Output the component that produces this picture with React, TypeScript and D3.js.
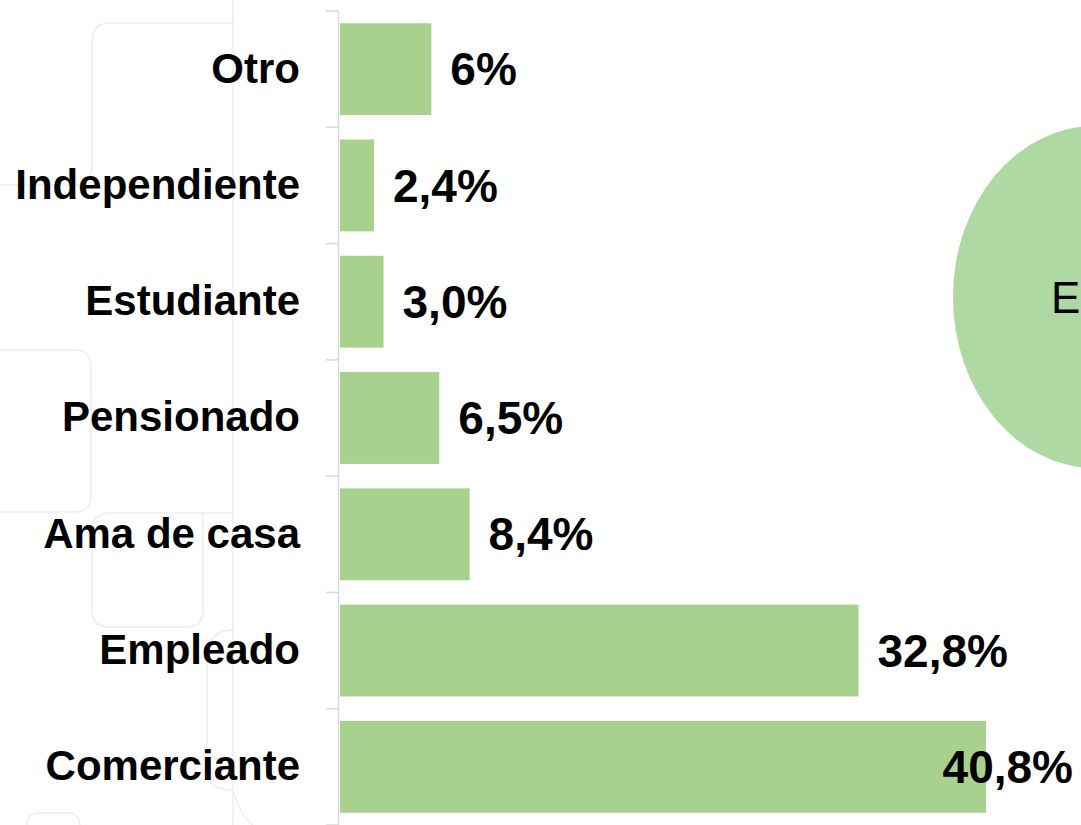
import React, { useEffect, useRef } from "react";
import * as d3 from "d3";

const categories = ["Otro", "Independiente", "Estudiante", "Pensionado", "Ama de casa", "Empleado", "Comerciante"];
const values = [6, 2.4, 3.0, 6.5, 8.4, 32.8, 40.8];
const valueLabels = ["6%", "2,4%", "3,0%", "6,5%", "8,4%", "32,8%", "40,8%"];
const ellipseText = "E";

const W = 1081;
const H = 825;
const BAR = "#a9d18e";
const FONT = "'Liberation Sans', Arial, Helvetica, sans-serif";

export default function App() {
  const ref = useRef<SVGSVGElement | null>(null);

  useEffect(() => {
    const svg = d3.select(ref.current);
    svg.selectAll("*").remove();

    // faint background decorations
    const deco = svg.append("g").attr("fill", "none").attr("stroke", "#eeeeee").attr("stroke-width", 1.5);
    deco.append("line").attr("x1", 233).attr("y1", 0).attr("x2", 233).attr("y2", H);
    deco.append("path").attr("d", "M233,23 H110 Q92,23 92,41 V165 Q92,185 72,185 H0");
    deco.append("path").attr("d", "M0,350 H74 Q91,350 91,367 V495 Q91,512 74,512 H0");
    deco.append("path").attr("d", "M233,513 H110 Q92,513 92,531 V610 Q92,627 110,627 H186 Q203,627 203,610 V513");
    deco.append("path").attr("d", "M233,630 Q207,630 207,660 V770 Q207,790 233,790");
    deco.append("path").attr("d", "M233,790 Q240,815 253,825");
    deco.append("path").attr("d", "M27,825 Q27,813 40,813 H68 Q80,813 80,825");

    // ellipse on the right
    svg.append("ellipse").attr("cx", 1095).attr("cy", 297).attr("rx", 142).attr("ry", 171).attr("fill", "#aed9a3");
    svg.append("text").attr("x", 1051).attr("y", 297).attr("dy", "0.36em")
      .attr("font-family", FONT).attr("font-size", 44).attr("fill", "#000").text(ellipseText);

    const y = d3.scaleBand<string>().domain(categories).range([11, 825]).paddingInner(0.21).paddingOuter(0.105);
    const step = y.step();
    const x = d3.scaleLinear().domain([0, 40.8]).range([335.7, 986]);
    const x0 = 340;

    // axis
    const axisX = 338.5;
    const ax = svg.append("g").attr("stroke", "#d9d9d9").attr("stroke-width", 1.5);
    const y0 = 11;
    const y1 = 11 + step * categories.length;
    ax.append("line").attr("x1", axisX).attr("x2", axisX).attr("y1", y0).attr("y2", y1);
    d3.range(categories.length + 1).forEach((i) => {
      const yy = y0 + i * step;
      ax.append("line").attr("x1", 326).attr("x2", axisX).attr("y1", yy).attr("y2", yy);
    });

    // bars
    svg.append("g").selectAll("rect").data(categories).join("rect")
      .attr("x", x0)
      .attr("y", (d) => y(d)!)
      .attr("width", (_, i) => x(values[i]) - x0)
      .attr("height", y.bandwidth())
      .attr("fill", BAR);

    // category labels
    svg.append("g").selectAll("text").data(categories).join("text")
      .attr("x", 300)
      .attr("y", (d) => y(d)! + y.bandwidth() / 2)
      .attr("dy", "0.32em")
      .attr("text-anchor", "end")
      .attr("font-family", FONT).attr("font-weight", "bold").attr("font-size", 42)
      .attr("fill", "#000")
      .text((d) => d);

    // value labels
    svg.append("g").selectAll("text").data(categories).join("text")
      .attr("y", (d) => y(d)! + y.bandwidth() / 2)
      .attr("dy", "0.35em")
      .attr("font-family", FONT).attr("font-weight", "bold").attr("font-size", 46)
      .attr("fill", "#000")
      .text((_, i) => valueLabels[i])
      .each(function (_, i) {
        const el = this as SVGTextElement;
        const w = el.getComputedTextLength();
        let px = x(values[i]) + 19;
        if (px + w > W - 8) px = W - 8 - w;
        d3.select(el).attr("x", px);
      });
  }, []);

  return (
    <svg
      ref={ref}
      width={W}
      height={H}
      style={{ position: "fixed", left: 0, top: 0, background: "#fff" }}
    />
  );
}
